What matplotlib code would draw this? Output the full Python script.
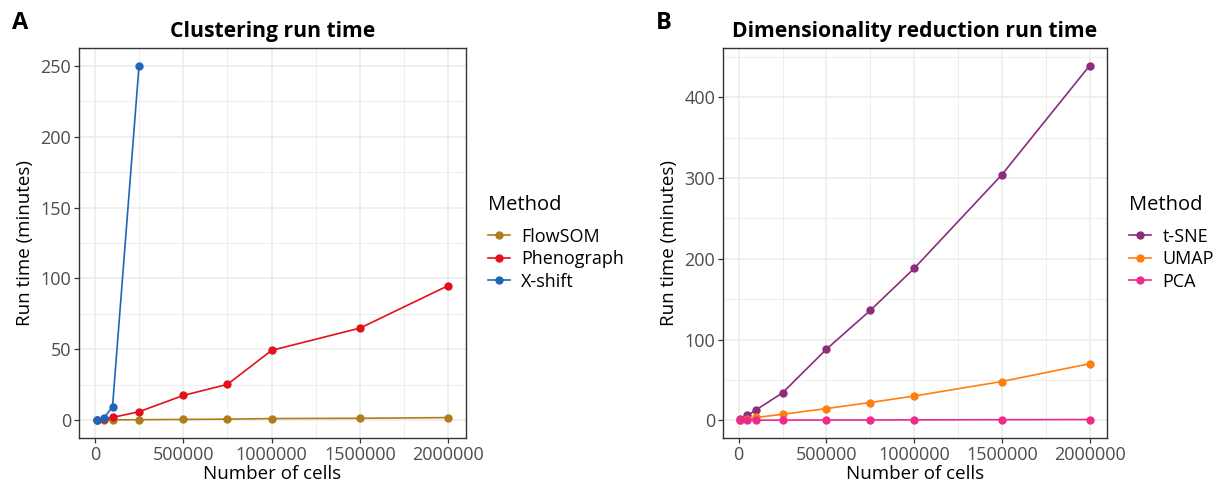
import numpy as np
import matplotlib
matplotlib.use("Agg")
import matplotlib.pyplot as plt
from matplotlib.ticker import MultipleLocator, FuncFormatter

plt.rcParams['font.family'] = ['Open Sans', 'DejaVu Sans']

# --- data ---
cells = [10000, 50000, 100000, 250000, 500000, 750000, 1000000, 1500000, 2000000]

flowsom = [0.1, 0.2, 0.3, 0.4, 0.6, 0.8, 1.2, 1.4, 1.9]
phenograph = [0.2, 0.8, 2.0, 6.0, 17.5, 25.3, 49.3, 65.0, 95.0]
xshift_cells = [10000, 50000, 100000, 250000]
xshift = [0.2, 1.4, 9.5, 250.0]

tsne = [1.0, 6.0, 13.0, 34.0, 88.0, 136.0, 188.0, 304.0, 439.0]
umap = [0.3, 1.3, 3.5, 7.4, 14.5, 22.0, 30.0, 48.0, 70.0]
pca = [0.02, 0.05, 0.1, 0.2, 0.3, 0.4, 0.5, 0.7, 0.9]

clust_methods = ['FlowSOM', 'Phenograph', 'X-shift']
clust_colors = ['#B07D1B', '#E3101C', '#1F66B8']
dimred_methods = ['t-SNE', 'UMAP', 'PCA']
dimred_colors = ['#8B2C7C', '#FF7F0E', '#EE2A8C']

TICK_COL = '#4D4D4D'
GRID_COL = '#EBEBEB'


def style_axes(ax, ymax, ystep):
    xmin, xmax = min(cells), max(cells)
    pad = 0.05 * (xmax - xmin)
    ax.set_xlim(xmin - pad, xmax + pad)
    ax.set_ylim(-0.05 * ymax, ymax * 1.05)
    ax.xaxis.set_major_locator(MultipleLocator(500000))
    ax.xaxis.set_minor_locator(MultipleLocator(250000))
    ax.yaxis.set_major_locator(MultipleLocator(ystep))
    ax.yaxis.set_minor_locator(MultipleLocator(ystep / 2))
    ax.xaxis.set_major_formatter(FuncFormatter(lambda v, p: f"{int(round(v))}"))
    ax.grid(which='major', color=GRID_COL, linewidth=1.1)
    ax.grid(which='minor', color=GRID_COL, linewidth=0.6)
    ax.set_axisbelow(True)
    for s in ax.spines.values():
        s.set_color('#333333')
        s.set_linewidth(1.0)
    ax.tick_params(which='major', length=3.5, width=0.9, color='#333333',
                   labelsize=13, labelcolor=TICK_COL, pad=2)
    ax.tick_params(which='minor', length=0)
    ax.set_xlabel('Number of cells', fontsize=13.5, labelpad=1)
    ax.set_ylabel('Run time (minutes)', fontsize=13.5, labelpad=5)


def add_legend(ax, width_px):
    leg = ax.legend(title='Method', loc='center left',
                    bbox_to_anchor=(1 + 22 / width_px, 0.5),
                    borderpad=0.0, borderaxespad=0.0,
                    frameon=False, fontsize=13, title_fontsize=14.5,
                    handlelength=1.2, handletextpad=0.65, labelspacing=0.25)
    leg._legend_box.align = 'left'
    leg._legend_box.sep = 9


fig = plt.figure(figsize=(12.24, 4.83), dpi=100)

# --- A: clustering ---
ax1 = fig.add_axes([79 / 1224, 45 / 483, 387 / 1224, 390 / 483])
ax1.plot(cells, flowsom, '-o', color=clust_colors[0], lw=1.2, ms=5, label=clust_methods[0])
ax1.plot(cells, phenograph, '-o', color=clust_colors[1], lw=1.2, ms=5, label=clust_methods[1])
ax1.plot(xshift_cells, xshift, '-o', color=clust_colors[2], lw=1.2, ms=5, label=clust_methods[2])
style_axes(ax1, 250, 50)
ax1.set_title('Clustering run time', fontsize=15.2, fontweight='bold', pad=8)
add_legend(ax1, 387)

# --- B: dimensionality reduction ---
ax2 = fig.add_axes([723 / 1224, 45 / 483, 384 / 1224, 390 / 483])
ax2.plot(cells, tsne, '-o', color=dimred_colors[0], lw=1.2, ms=5, label=dimred_methods[0])
ax2.plot(cells, umap, '-o', color=dimred_colors[1], lw=1.2, ms=5, label=dimred_methods[1])
ax2.plot(cells, pca, '-o', color=dimred_colors[2], lw=1.2, ms=5, label=dimred_methods[2])
style_axes(ax2, max(tsne), 100)
ax2.set_title('Dimensionality reduction run time', fontsize=15.2, fontweight='bold', pad=8)
add_legend(ax2, 384)

fig.text(12 / 1224, 1 - 23 / 483, 'A', fontsize=17, fontweight='bold', va='center', ha='left')
fig.text(656 / 1224, 1 - 23 / 483, 'B', fontsize=17, fontweight='bold', va='center', ha='left')

fig.savefig('out.png', dpi=100, facecolor='white')
